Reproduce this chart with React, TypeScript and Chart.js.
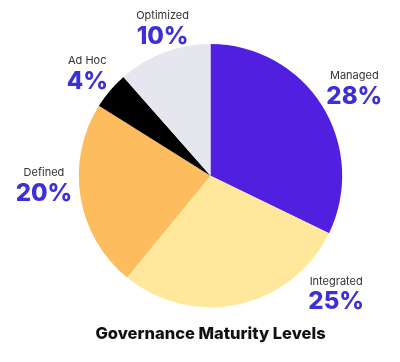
import React, { useEffect, useRef } from "react";
import { Chart, registerables } from "chart.js";

Chart.register(...registerables);

const categories = ["Managed", "Integrated", "Defined", "Ad Hoc", "Optimized"];
const values = [28, 25, 20, 4, 10];
const sliceColors = ["#501FE0", "#FFE89B", "#FDBC5E", "#000000", "#E6E6EF"];
const chartTitle = "Governance Maturity Levels";

// label placement styling: angle offset (deg) from slice middle, distance beyond the rim (px)
const labelAngleOffsets = [0, -35, 7, 0, 3];
const labelDistances = [38, 39, 35, 30, 26];

const labelPlugin = {
  id: "sliceLabels",
  afterDatasetsDraw(chart: any) {
    const ctx = chart.ctx;
    const meta = chart.getDatasetMeta(0);
    const data = chart.data.datasets[0].data as number[];
    meta.data.forEach((arc: any, i: number) => {
      const p = arc.getProps(["x", "y", "startAngle", "endAngle", "outerRadius"], true);
      const mid = (p.startAngle + p.endAngle) / 2 + (labelAngleOffsets[i] * Math.PI) / 180;
      const r = p.outerRadius + labelDistances[i];
      const cx = p.x + Math.cos(mid) * r;
      const cy = p.y + Math.sin(mid) * r;
      ctx.save();
      ctx.textAlign = "center";
      ctx.textBaseline = "middle";
      ctx.fillStyle = "#333333";
      ctx.font = "400 11px Inter, 'Noto Sans', sans-serif";
      ctx.fillText(String(chart.data.labels[i]), cx, cy - 10);
      ctx.fillStyle = "#3D2FD9";
      ctx.font = "800 24px Inter, 'Noto Sans', sans-serif";
      ctx.fillText(`${data[i]}%`, cx, cy + 11);
      ctx.restore();
    });
  },
};

export default function App() {
  const ref = useRef<HTMLCanvasElement | null>(null);
  useEffect(() => {
    if (!ref.current) return;
    const chart = new Chart(ref.current, {
      type: "pie",
      data: {
        labels: categories,
        datasets: [
          {
            data: values,
            backgroundColor: sliceColors,
            borderWidth: 0,
          },
        ],
      },
      options: {
        responsive: false,
        animation: false,
        layout: { padding: { left: 78.5, right: 57.5, top: 44, bottom: 7.8 } },
        plugins: {
          legend: { display: false },
          tooltip: { enabled: false },
          title: {
            display: true,
            text: chartTitle,
            position: "bottom",
            color: "#111111",
            font: { family: "Inter, 'Noto Sans', sans-serif", size: 16.5, weight: 800, lineHeight: 1.2 },
            padding: { top: 17, bottom: 10 },
          },
        },
      },
      plugins: [labelPlugin],
    });
    return () => chart.destroy();
  }, []);
  return (
    <div style={{ position: "fixed", left: 0, top: 0, width: 400, height: 362, background: "#fff" }}>
      <canvas ref={ref} width={400} height={362} />
    </div>
  );
}
